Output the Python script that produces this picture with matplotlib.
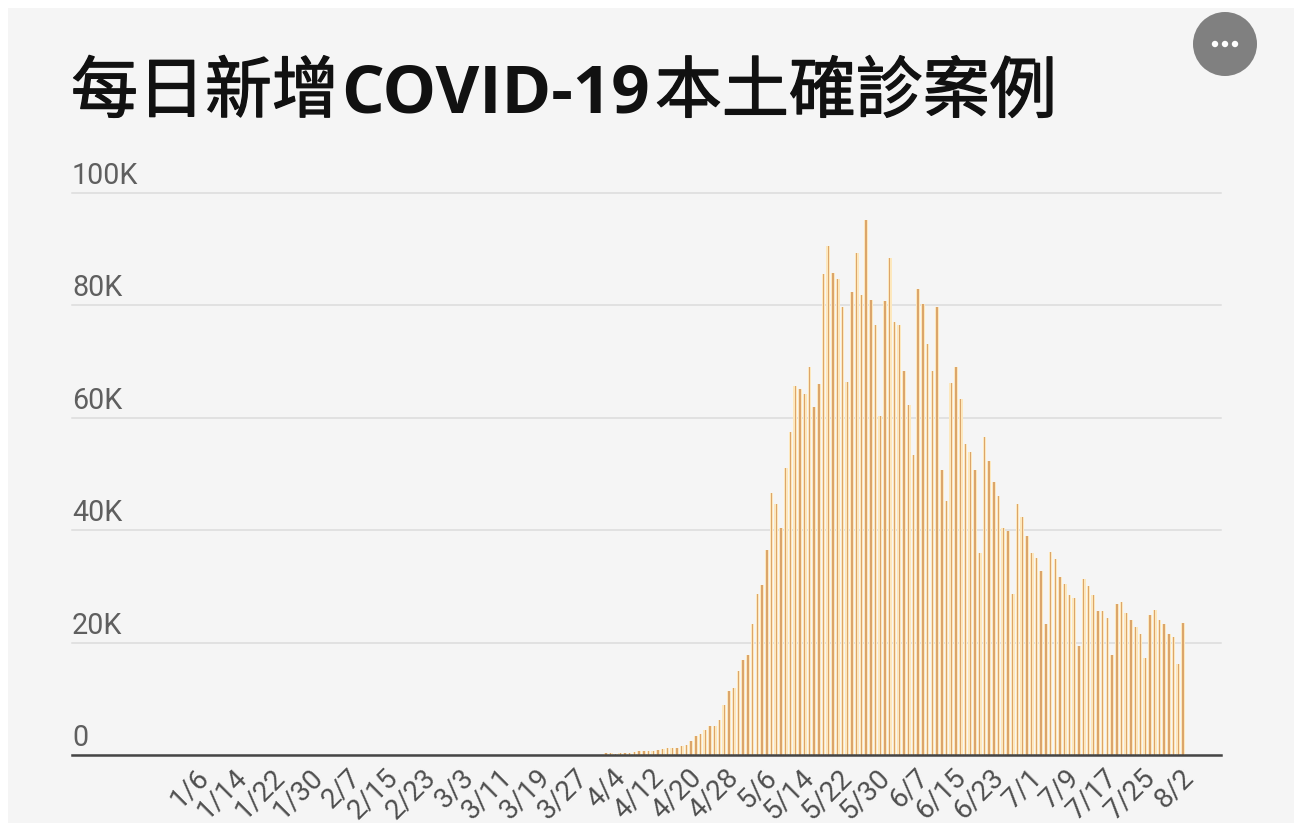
"""每日新增COVID-19本土確診案例 - daily bars with a grey card background."""
import matplotlib
matplotlib.use("Agg")
import matplotlib.pyplot as plt
import matplotlib.dates as mdates
import matplotlib.patheffects as pe
from matplotlib.patches import Circle, Rectangle
from matplotlib.transforms import ScaledTranslation
import pandas as pd

title_parts = ["每日新增", "COVID-19", "本土確診案例"]
first_day = "2022-04-03"
# daily cases in thousands, from first_day on (nothing visible before it)
cases = [
    0.4, 0.4, 0.2, 0.4, 0.4, 0.4, 0.45, 0.65, 0.65, 0.65, 0.65, 0.95, 1.0, 1.3, 1.3, 1.3, 1.6, 1.8,
    2.5, 3.3, 3.8, 4.4, 5.2, 5.2, 6.3, 8.9, 11.4, 12.0, 15.0, 16.9, 17.8,
    23.3, 28.6, 30.2, 36.5, 46.6, 44.6, 40.4, 51.0, 57.5,
    65.7, 65.1, 64.2, 69.0, 62.0, 66.0, 85.5, 90.6, 85.8, 84.7, 79.7, 66.4, 82.4, 89.4, 81.8, 95.2,
    81.0, 76.5, 60.3, 80.8, 88.4, 77.1, 76.5, 68.4, 62.2, 53.3, 83.0, 80.2, 73.2, 68.4, 79.7, 50.8,
    45.2, 66.2, 69.0, 63.4, 55.3, 53.9, 50.8, 35.9, 56.6, 52.4, 48.5, 46.0, 40.4, 39.9, 28.6, 44.6,
    42.3, 39.0, 35.9, 35.1, 32.8, 23.3, 36.2, 34.8, 31.7, 30.5, 28.4, 28.0, 19.4, 31.4, 30.0, 28.4,
    25.6, 25.6, 24.4, 17.8, 26.9, 27.2, 25.3, 24.1, 22.7, 21.6, 17.2, 25.0, 25.8, 24.1, 23.3, 21.6,
    21.0, 16.2, 23.5,
]
y_ticks = [0, 20, 40, 60, 80, 100]
y_labels = ["0", "20K", "40K", "60K", "80K", "100K"]
x_labels = ["1/6", "1/14", "1/22", "1/30", "2/7", "2/15", "2/23", "3/3", "3/11", "3/19", "3/27",
            "4/4", "4/12", "4/20", "4/28", "5/6", "5/14", "5/22", "5/30", "6/7", "6/15", "6/23",
            "7/1", "7/9", "7/17", "7/25", "8/2"]

W, H = 1297, 823
fig = plt.figure(figsize=(W / 100, H / 100), dpi=100, facecolor="white")

# card, title and the round menu button, in pixel coordinates
bg = fig.add_axes([0, 0, 1, 1], zorder=0)
bg.set_xlim(0, W); bg.set_ylim(H, 0); bg.axis("off")
bg.add_patch(Rectangle((8, 8), 1286, 815, color="#f5f5f5", lw=0))
thicker = [pe.withStroke(linewidth=1.0, foreground="#111111")]  # CJK strokes are heavier than Regular
cjk = dict(fontsize=48.2, family="Noto Sans CJK TC", path_effects=thicker)
latin = dict(fontsize=48.5, fontweight="bold", family="Open Sans")
bg.text(71, 112, title_parts[0], color="#111111", va="baseline", **cjk)
bg.text(341, 112, title_parts[1], color="#111111", va="baseline", **latin)
bg.text(655, 112, title_parts[2], color="#111111", va="baseline", **cjk)
bg.add_patch(Circle((1225, 44), 32, color="#808080", lw=0))
for dx in (-10, 0, 10):
    bg.add_patch(Circle((1225 + dx, 44), 3.2, color="white", lw=0))

# chart
ax = fig.add_axes([72 / W, 1 - 755 / H, (1221 - 72) / W, (755 - 193) / H], zorder=1)
ax.patch.set_alpha(0)
days = pd.date_range(first_day, periods=len(cases))
ax.bar(days, cases, width=0.78, color="#fde8bd", lw=0, zorder=2)
ax.bar(days, cases, width=0.29, color="#dba56b", lw=0, zorder=3)

px_per_day = 4.73
start = mdates.date2num(days[0])
ax.set_xlim(start - (606 - 72) / px_per_day, start + (1221 - 606) / px_per_day)
ax.set_ylim(0, 100)

ax.set_yticks(y_ticks)
ax.set_yticklabels([])
ax.grid(axis="y", color="#dcdcdc", lw=1.1, zorder=1, clip_on=False)
ax.set_axisbelow(True)
for s in ("top", "left", "right"):
    ax.spines[s].set_visible(False)
ax.spines["bottom"].set_color("#454545")
ax.spines["bottom"].set_linewidth(1.8)
ax.spines["bottom"].set_zorder(5)
ax.tick_params(axis="both", length=0)

for v, lab in zip(y_ticks, y_labels):
    ax.annotate(lab, xy=(0, v), xycoords=("axes fraction", "data"), xytext=(0, 6.5),
                textcoords="offset points", family="Roboto", fontsize=20.6,
                color="#5f5f5f", ha="left", va="baseline", annotation_clip=False)

tick_pos = pd.to_datetime(["2022/" + s for s in x_labels], format="%Y/%m/%d")
ax.set_xticks(tick_pos)
ax.set_xticklabels(x_labels, rotation=45, ha="right", va="top", rotation_mode="anchor",
                   family="Roboto", fontsize=20.2, color="#4f4f4f")
shift = ScaledTranslation(1 / 100, -4 / 100, fig.dpi_scale_trans)
for t in ax.get_xticklabels():
    t.set_transform(t.get_transform() + shift)

fig.savefig("out.png", dpi=100, facecolor="white")
